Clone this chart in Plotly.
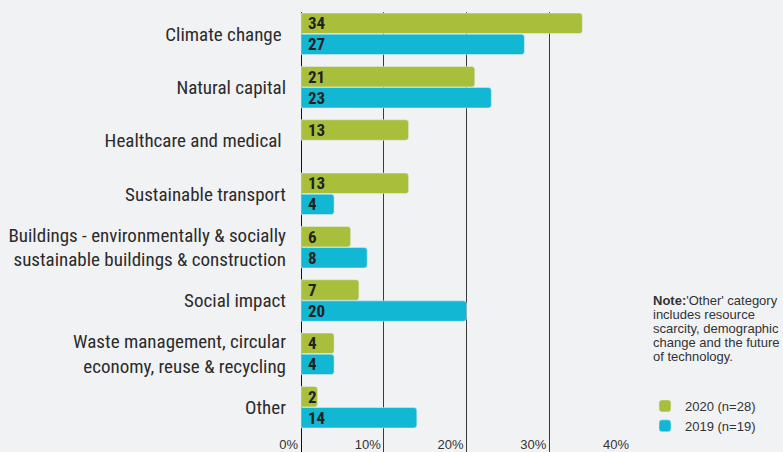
import plotly.graph_objects as go

categories = [
    "Climate change\u00a0",
    "Natural capital",
    "Healthcare and medical\u00a0",
    "Sustainable transport",
    "Buildings - environmentally & socially<br>sustainable buildings & construction",
    "Social impact",
    "Waste management, circular<br>economy, reuse & recycling",
    "Other",
]
vals_2020 = [34, 21, 13, 13, 6, 7, 4, 2]
vals_2019 = [27, 23, None, 4, 8, 20, 4, 14]
tick_vals = [0, 10, 20, 30, 40]
tick_text = ["0%", "10%", "20%", "30%", "40%"]
note_lines = [
    "<b>Note:</b>'Other' category",
    "includes resource",
    "scarcity, demographic",
    "change and the future",
    "of technology.",
]

FONT = "Roboto Condensed, Liberation Sans Narrow, Roboto, sans-serif"
FONT2 = "Liberation Sans, Arial, sans-serif"
GREEN = "#a9bf3c"
BLUE = "#12b8d3"
BG = "#f1f2f4"

# plot area: x 274..632 (0% sits at 301), y 12..452
L, R, T = 274, 632, 12
X0 = 301
W, H = R - L, 452 - T


def px_x(x):
    return (x - L) / W


def px_y(y):
    return (452 - y) / H


def lbl(vals):
    return ["\u00a0" + str(v) if v is not None else "" for v in vals]


fig = go.Figure()
for name, vals, col in [("2020 (n=28)", vals_2020, GREEN), ("2019 (n=19)", vals_2019, BLUE)]:
    fig.add_trace(go.Bar(
        y=categories, x=vals, orientation="h", name=name,
        marker=dict(color=col, cornerradius=3),
        text=lbl(vals), textposition="inside", insidetextanchor="start",
        constraintext="none", textangle=0,
        textfont=dict(family=FONT, size=17, color="#222222", weight="bold"),
        hoverinfo="skip",
    ))

for i, line in enumerate(note_lines):
    fig.add_annotation(
        text=line, xref="paper", yref="paper",
        x=px_x(651), y=px_y(301 + i * 13.8),
        xanchor="left", yanchor="middle", showarrow=False,
        font=dict(family=FONT2, size=13, color="#333333"),
    )

fig.update_layout(
    width=783, height=452,
    margin=dict(l=L, r=783 - R, t=T, b=0, autoexpand=False),
    paper_bgcolor=BG, plot_bgcolor=BG,
    barmode="group", bargap=0.21, bargroupgap=0.03,
    font=dict(family=FONT, color="#333333"),
    legend=dict(
        x=px_x(645), y=px_y(391),
        xanchor="left", yanchor="top",
        font=dict(family=FONT2, size=13, color="#333333"),
        bgcolor="rgba(0,0,0,0)", traceorder="normal",
        tracegroupgap=0,
    ),
    xaxis=dict(
        range=[-(X0 - L) / (R - X0) * 40, 40],
        tickvals=tick_vals, ticktext=tick_text,
        showgrid=True, gridcolor="#3c3c3c", gridwidth=1,
        zeroline=True, zerolinecolor="#111111", zerolinewidth=1.3,
        ticks="", ticklabelposition="inside left",
        ticklabelstandoff=-6, ticklabelshift=-3,
        tickfont=dict(family=FONT2, size=13, color="#333333"),
        fixedrange=True, automargin=False,
    ),
    yaxis=dict(
        range=[7.84, -0.41], ticks="", ticklabelstandoff=-13,
        tickfont=dict(family=FONT, size=19, color="#2b2b2b"),
        showgrid=False, fixedrange=True, automargin=False,
    ),
)

fig.write_html(
    "out.html",
    config={"displayModeBar": False},
    post_script="document.body.style.margin='0px';",
)
